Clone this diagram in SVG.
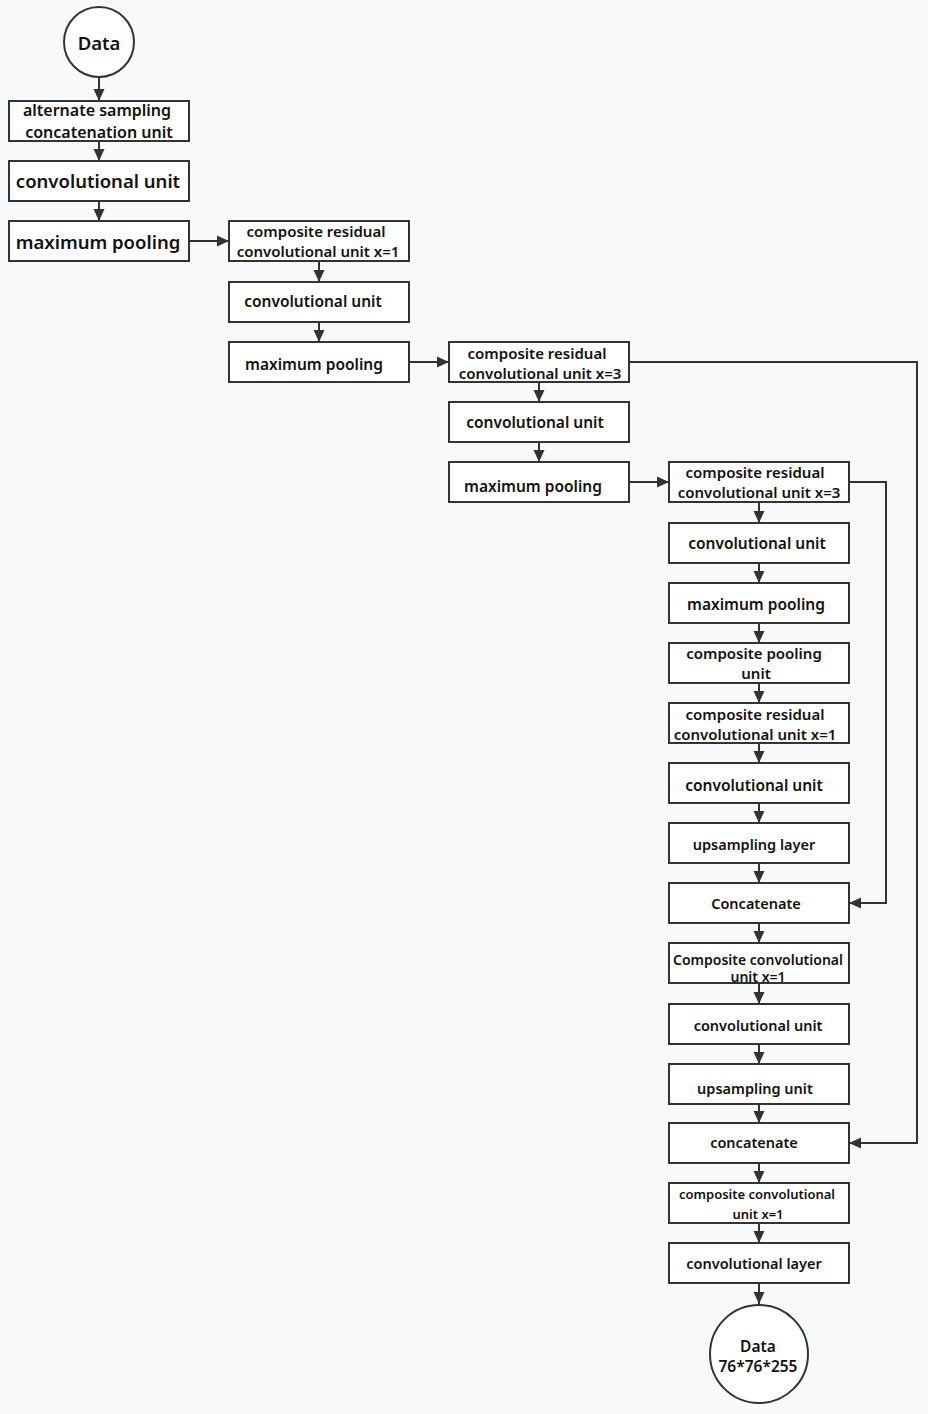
<svg xmlns="http://www.w3.org/2000/svg" width="928" height="1414" viewBox="0 0 928 1414">
<defs>
<marker id="ah" viewBox="0 0 12 12" refX="12" refY="6" markerWidth="12" markerHeight="12" markerUnits="userSpaceOnUse" orient="auto">
<path d="M0,0.5 L12,6 L0,11.5 z" fill="#333"/>
</marker>
<style>
.b{fill:#fff;stroke:#333;stroke-width:2}
.t{font-family:"Noto Sans","DejaVu Sans",sans-serif;font-weight:600;fill:#111;text-anchor:middle;dominant-baseline:central}
.l{font-size:18.5px}
.l2{font-size:16px}
.m{font-size:15.5px}
.m2{font-size:15px}
.s{font-size:14.5px}
.s2{font-size:14px}
.xs{font-size:13px}
.c{fill:none;stroke:#333;stroke-width:2}
</style>
</defs>
<rect width="928" height="1414" fill="#f8f9fb"/>
<g id="connectors">
<path class="c" d="M99,77 V101" marker-end="url(#ah)"/>
<path class="c" d="M99,141 V161" marker-end="url(#ah)"/>
<path class="c" d="M99,201 V221" marker-end="url(#ah)"/>
<path class="c" d="M189,241 H229" marker-end="url(#ah)"/>
<path class="c" d="M319,261 V282" marker-end="url(#ah)"/>
<path class="c" d="M319,322 V342" marker-end="url(#ah)"/>
<path class="c" d="M409,362 H449" marker-end="url(#ah)"/>
<path class="c" d="M539,382 V402" marker-end="url(#ah)"/>
<path class="c" d="M539,442 V462" marker-end="url(#ah)"/>
<path class="c" d="M629,482 H669" marker-end="url(#ah)"/>
<path class="c" d="M759,502 V523" marker-end="url(#ah)"/>
<path class="c" d="M759,563 V583" marker-end="url(#ah)"/>
<path class="c" d="M759,623 V643" marker-end="url(#ah)"/>
<path class="c" d="M759,683 V703" marker-end="url(#ah)"/>
<path class="c" d="M759,743 V763" marker-end="url(#ah)"/>
<path class="c" d="M759,803 V823" marker-end="url(#ah)"/>
<path class="c" d="M759,863 V883" marker-end="url(#ah)"/>
<path class="c" d="M759,923 V943" marker-end="url(#ah)"/>
<path class="c" d="M759,983 V1004" marker-end="url(#ah)"/>
<path class="c" d="M759,1044 V1064" marker-end="url(#ah)"/>
<path class="c" d="M759,1104 V1123" marker-end="url(#ah)"/>
<path class="c" d="M759,1163 V1183" marker-end="url(#ah)"/>
<path class="c" d="M759,1223 V1243" marker-end="url(#ah)"/>
<path class="c" d="M759,1283 V1304" marker-end="url(#ah)"/>
<path class="c" d="M629,362 H917 V1143 H849" marker-end="url(#ah)"/>
<path class="c" d="M849,482 H886 V903 H849" marker-end="url(#ah)"/>
</g>
<g id="data-in"><circle class="b" cx="99" cy="42" r="35"/><text class="t l" x="99" y="42">Data</text></g>
<g id="asc"><rect class="b" x="9" y="101" width="180" height="40"/><text class="t l2" x="97" y="110">alternate sampling</text><text class="t l2" x="99" y="132">concatenation unit</text></g>
<g id="conv1"><rect class="b" x="9" y="161" width="180" height="40"/><text class="t l" x="98" y="180">convolutional unit</text></g>
<g id="pool1"><rect class="b" x="9" y="221" width="180" height="40"/><text class="t l" x="98" y="241">maximum pooling</text></g>
<g id="res1"><rect class="b" x="229" y="221" width="180" height="40"/><text class="t m2" x="316" y="231">composite residual</text><text class="t m2" x="318" y="251">convolutional unit x=1</text></g>
<g id="conv2"><rect class="b" x="229" y="282" width="180" height="40"/><text class="t m" x="313" y="301">convolutional unit</text></g>
<g id="pool2"><rect class="b" x="229" y="342" width="180" height="40"/><text class="t m" x="314" y="364">maximum pooling</text></g>
<g id="res2"><rect class="b" x="449" y="342" width="180" height="40"/><text class="t m2" x="537" y="353">composite residual</text><text class="t m2" x="540" y="373">convolutional unit x=3</text></g>
<g id="conv3"><rect class="b" x="449" y="402" width="180" height="40"/><text class="t m" x="535" y="422">convolutional unit</text></g>
<g id="pool3"><rect class="b" x="449" y="462" width="180" height="40"/><text class="t m" x="533" y="486">maximum pooling</text></g>
<g id="res3"><rect class="b" x="669" y="462" width="180" height="40"/><text class="t m2" x="755" y="472">composite residual</text><text class="t m2" x="759" y="492">convolutional unit x=3</text></g>
<g id="conv4"><rect class="b" x="669" y="523" width="180" height="40"/><text class="t m" x="757" y="543">convolutional unit</text></g>
<g id="pool4"><rect class="b" x="669" y="583" width="180" height="40"/><text class="t m" x="756" y="604">maximum pooling</text></g>
<g id="cpool"><rect class="b" x="669" y="643" width="180" height="40"/><text class="t m2" x="754" y="653">composite pooling</text><text class="t m2" x="756" y="673">unit</text></g>
<g id="res4"><rect class="b" x="669" y="703" width="180" height="40"/><text class="t m2" x="755" y="714">composite residual</text><text class="t m2" x="755" y="734">convolutional unit x=1</text></g>
<g id="conv5"><rect class="b" x="669" y="763" width="180" height="40"/><text class="t m" x="754" y="785">convolutional unit</text></g>
<g id="up1"><rect class="b" x="669" y="823" width="180" height="40"/><text class="t s" x="754" y="844">upsampling layer</text></g>
<g id="cat1"><rect class="b" x="669" y="883" width="180" height="40"/><text class="t s" x="756" y="903">Concatenate</text></g>
<g id="cc1"><rect class="b" x="669" y="943" width="180" height="40"/><text class="t s2" x="758" y="959">Composite convolutional</text><text class="t s2" x="758" y="976">unit x=1</text></g>
<g id="conv6"><rect class="b" x="669" y="1004" width="180" height="40"/><text class="t s" x="758" y="1025">convolutional unit</text></g>
<g id="up2"><rect class="b" x="669" y="1064" width="180" height="40"/><text class="t s" x="755" y="1088">upsampling unit</text></g>
<g id="cat2"><rect class="b" x="669" y="1123" width="180" height="40"/><text class="t s" x="754" y="1142">concatenate</text></g>
<g id="cc2"><rect class="b" x="669" y="1183" width="180" height="40"/><text class="t xs" x="757" y="1194">composite convolutional</text><text class="t xs" x="758" y="1214">unit x=1</text></g>
<g id="convl"><rect class="b" x="669" y="1243" width="180" height="40"/><text class="t s" x="754" y="1263">convolutional layer</text></g>
<g id="data-out"><circle class="b" cx="759" cy="1354" r="49"/><text class="t m" x="758" y="1346">Data</text><text class="t m" x="758" y="1366">76*76*255</text></g>
</svg>
